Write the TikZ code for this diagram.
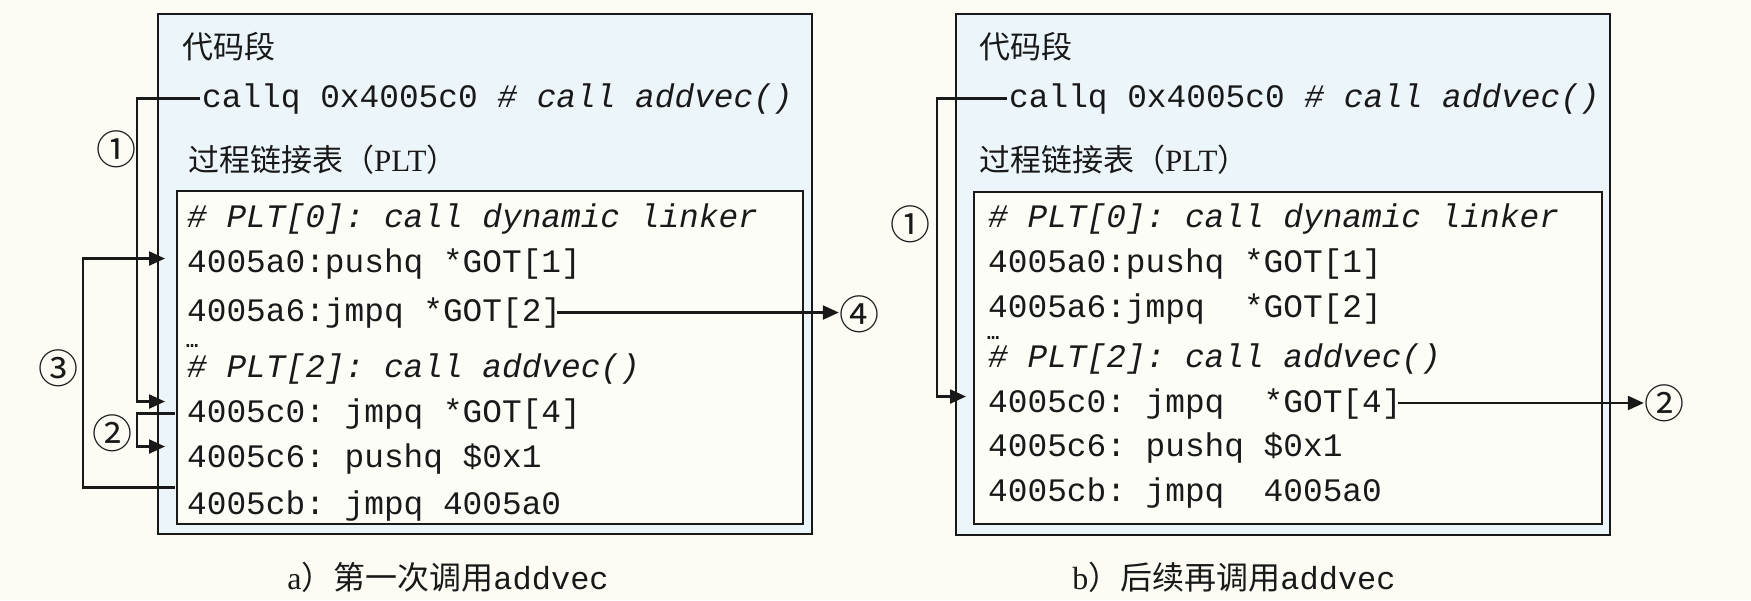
\documentclass[tikz,border=0pt]{standalone}
\usepackage{fontspec}
\setmainfont{Liberation Serif}
\setmonofont{Liberation Mono}
\newfontfamily\cjk{Noto Sans CJK SC}
\usetikzlibrary{arrows.meta}
\definecolor{pagebg}{RGB}{252,252,245}
\definecolor{outerfill}{RGB}{236,245,250}
\definecolor{innerfill}{RGB}{253,253,248}
\definecolor{ink}{RGB}{25,25,25}
\begin{document}
\begin{tikzpicture}[x=1pt,y=-1pt,
  code/.style={anchor=base west, inner sep=0pt, text=ink, font=\fontsize{32.8}{36}\ttfamily},
  dots/.style={anchor=base west, inner sep=0pt, text=ink, font=\fontsize{20}{22}\ttfamily\bfseries},
  cjklabel/.style={anchor=west, inner sep=0pt, text=ink, font=\fontsize{31}{35}\cjk},
  captext/.style={anchor=center, inner sep=0pt, text=ink, font=\fontsize{32}{36}\selectfont},
  num/.style={inner sep=0pt, text=ink, font=\fontsize{40}{44}\cjk},
  conn/.style={draw=ink, line width=2.3pt},
  arr/.style={conn, -{Triangle[length=16pt,width=14pt]}},
  outerbox/.style={draw=ink, line width=2.3pt, fill=outerfill, anchor=north west, inner sep=0pt},
  innerbox/.style={draw=ink, line width=2.3pt, fill=innerfill, anchor=north west, inner sep=0pt},
]
\fill[pagebg] (0,0) rectangle (1751,600);
\useasboundingbox (0,0) rectangle (1751,600);

% ---------------- panel a ----------------
\node[outerbox, minimum width=654pt, minimum height=520pt] (outA) at (157,13) {};
\node[innerbox, minimum width=626pt, minimum height=333pt] (innA) at (176,190) {};
\node[cjklabel] (segA) at (182,47) {代码段};
\node[code] (callA) at (202,107) {callq 0x4005c0 \textit{\# call addvec()}};
\node[cjklabel] (pltA) at (188,160) {过程链接表（{\rmfamily PLT}）};
\node[code] (p0A) at (187,227) {\textit{\# PLT[0]: call dynamic linker}};
\node[code] (a0A) at (187,272) {4005a0:pushq *GOT[1]};
\node[code] (a6A) at (187,321) {4005a6:jmpq *GOT[2]};
\node[dots] (dA) at (186,347) {…};
\node[code] (p2A) at (187,377) {\textit{\# PLT[2]: call addvec()}};
\node[code] (c0A) at (187,422) {4005c0: jmpq *GOT[4]};
\node[code] (c6A) at (187,467) {4005c6: pushq \$0x1};
\node[code] (cbA) at (187,514) {4005cb: jmpq 4005a0};
\node[num] (n1A) at (116,149) {①};
\node[num] (n2A) at (112,433) {②};
\node[num] (n3A) at (58,368) {③};
\node[num] (n4A) at (859,314) {④};
\node[captext] (capA) at (448,577) {a{\cjk ）第一次调用}{\ttfamily addvec}};

\coordinate (vA1) at (137,0);
\coordinate (vA3) at (83,0);
\coordinate (eA1) at ([xshift=-22pt,yshift=12pt]c0A.west);
\coordinate (sA2) at ([xshift=-12pt]c0A.west);
\coordinate (eA2) at ([xshift=-22pt,yshift=12pt]c6A.west);
\coordinate (sA3) at ([xshift=-12pt,yshift=18pt]cbA.west);
\coordinate (eA3) at ([xshift=-22pt,yshift=5pt]a0A.west);
\draw[arr] ([xshift=-2pt]callA.west) -| (vA1 |- eA1) -- (eA1);
\draw[arr] (sA2) -| (vA1 |- eA2) -- (eA2);
\draw[arr] (sA3) -| (vA3 |- eA3) -- (eA3);
\draw[arr] ([xshift=-4pt]a6A.east) -- (a6A.east -| n4A.west);

% ---------------- panel b ----------------
\node[outerbox, minimum width=654pt, minimum height=521pt] (outB) at (955,13) {};
\node[innerbox, minimum width=628pt, minimum height=332pt] (innB) at (973,191) {};
\node[cjklabel] (segB) at (979,47) {代码段};
\node[code] (callB) at (1009,107) {callq 0x4005c0 \textit{\# call addvec()}};
\node[cjklabel] (pltB) at (979,160) {过程链接表（{\rmfamily PLT}）};
\node[code] (p0B) at (988,227) {\textit{\# PLT[0]: call dynamic linker}};
\node[code] (a0B) at (988,272) {4005a0:pushq *GOT[1]};
\node[code] (a6B) at (988,317) {4005a6:jmpq\ \ *GOT[2]};
\node[dots] (dB) at (987,339) {…};
\node[code] (p2B) at (988,367) {\textit{\# PLT[2]: call addvec()}};
\node[code] (c0B) at (988,412) {4005c0: jmpq\ \ *GOT[4]};
\node[code] (c6B) at (988,456) {4005c6: pushq \$0x1};
\node[code] (cbB) at (988,501) {4005cb: jmpq\ \ 4005a0};
\node[num] (n1B) at (910,224) {①};
\node[num] (n2B) at (1664,403) {②};
\node[captext] (capB) at (1234,577) {b{\cjk ）后续再调用}{\ttfamily addvec}};

\coordinate (vB1) at (937,0);
\coordinate (eB1) at ([xshift=-22pt,yshift=7pt]c0B.west);
\coordinate (sB2) at ([xshift=-4pt]c0B.east);
\draw[arr] ([xshift=-2pt]callB.west) -| (vB1 |- eB1) -- (eB1);
\draw[arr] (sB2 |- n2B.west) -- (n2B.west);
\end{tikzpicture}
\end{document}
